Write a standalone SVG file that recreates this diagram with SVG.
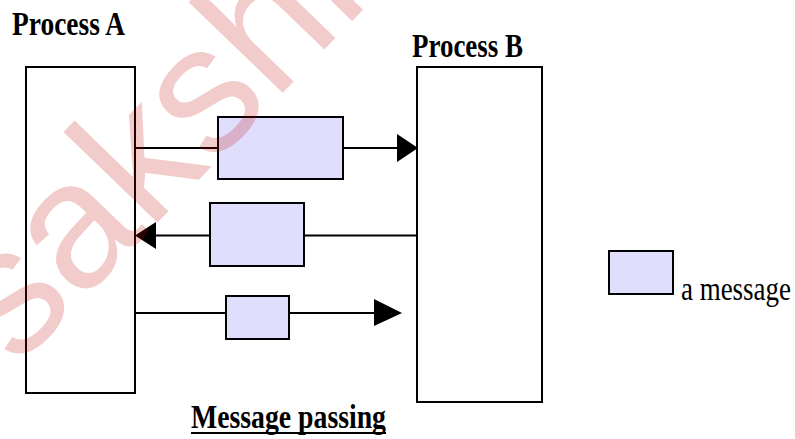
<svg xmlns="http://www.w3.org/2000/svg" width="795" height="439" viewBox="0 0 795 439">
<style>
.proc{fill:#ffffff;stroke:#000;stroke-width:2}
.msg{fill:#dfdffd;stroke:#000;stroke-width:2}
.conn{stroke:#000;stroke-width:2;fill:none}
.head{fill:#000;stroke:none}
.title{font-family:"Liberation Serif","Times New Roman",serif;font-weight:bold;font-size:34px;fill:#000}
.legend{font-family:"Liberation Serif","Times New Roman",serif;font-size:34px;fill:#000}
.wm{font-family:"Liberation Sans",Arial,sans-serif;fill:#c00000;opacity:0.2}
</style>
<rect width="795" height="439" fill="#ffffff"/>
<g id="connectors">
<line class="conn" x1="135" y1="148" x2="399" y2="148"/>
<polygon class="head" points="397,134 418,148 397,162"/>
<line class="conn" x1="417" y1="235.5" x2="154" y2="235.5"/>
<polygon class="head" points="156,222 135,235.5 156,249"/>
<line class="conn" x1="135" y1="313" x2="376" y2="313"/>
<polygon class="head" points="374,299 402,313 374,326"/>
</g>
<g id="processA">
<rect class="proc" x="26" y="67" width="109" height="326"/>
<text class="title" x="12" y="35" textLength="113" lengthAdjust="spacingAndGlyphs">Process A</text>
</g>
<g id="processB">
<rect class="proc" x="417" y="67" width="125" height="335"/>
<text class="title" x="412" y="57" textLength="111" lengthAdjust="spacingAndGlyphs">Process B</text>
</g>
<g id="message1"><rect class="msg" x="218" y="117" width="125" height="62"/></g>
<g id="message2"><rect class="msg" x="210" y="203" width="94" height="63"/></g>
<g id="message3"><rect class="msg" x="226" y="296" width="63" height="43"/></g>
<g id="legend">
<rect class="msg" x="609" y="251" width="64" height="43"/>
<text class="legend" x="681" y="300" textLength="110" lengthAdjust="spacingAndGlyphs">a message</text>
</g>
<g id="caption">
<text class="title" x="191" y="428" textLength="195" lengthAdjust="spacingAndGlyphs">Message passing</text>
<line x1="191" y1="433" x2="386" y2="433" stroke="#000" stroke-width="2"/>
</g>
<text class="wm" font-size="180" transform="translate(17,368) rotate(-46)">sakshi</text>
</svg>
